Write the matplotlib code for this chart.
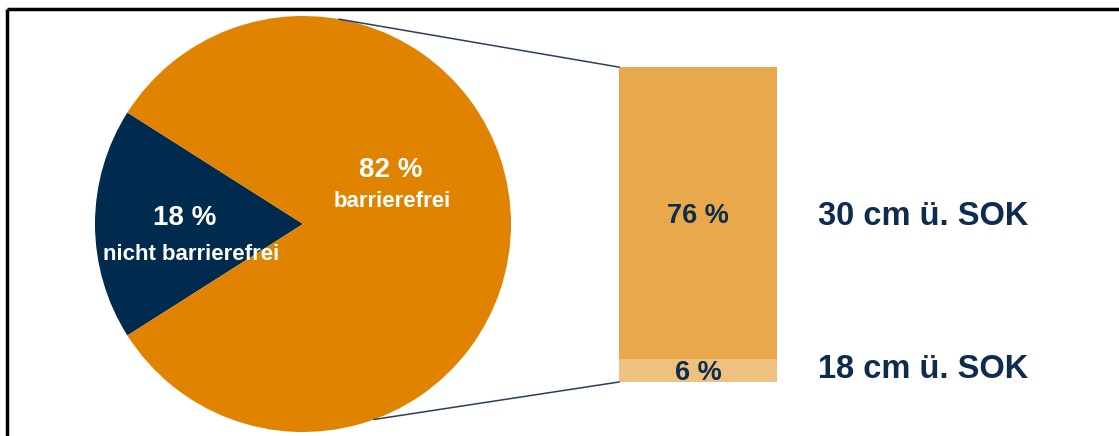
import matplotlib
matplotlib.use("Agg")
import matplotlib.pyplot as plt
import numpy as np

plt.rcParams['font.family'] = ['Liberation Sans', 'DejaVu Sans']

# ---- data ----
pie_labels = ["nicht barrierefrei", "barrierefrei"]
pie_values = [18, 82]
pie_colors = ["#002B4E", "#E08300"]

bar_labels = ["18 cm ü. SOK", "30 cm ü. SOK"]
bar_values = [6, 76]
bar_colors = ["#EFC17F", "#E8A84B"]

W, H = 1119, 436
fig = plt.figure(figsize=(W / 100, H / 100), dpi=100)
ax = fig.add_axes([0, 0, 1, 1])

navy_text = "#0E2C4E"

# pie (pixel coordinates, y up)
cx, cy, r = 303, 212, 208
half = pie_values[0] / 100 * 360 / 2
ax.pie(pie_values, colors=pie_colors, startangle=180 - half,
       counterclock=True, center=(cx, cy), radius=r,
       wedgeprops=dict(linewidth=0), frame=True)
ax.set_xlim(0, W)
ax.set_ylim(0, H)
ax.set_aspect('equal')
ax.axis('off')

# pie labels
ax.text(185, H - 218, f"{pie_values[0]} %", color="white", fontsize=20,
        fontweight="bold", ha="center", va="center")
ax.text(191, H - 255, pie_labels[0], color="white", fontsize=16,
        fontweight="bold", ha="center", va="center")
ax.text(391, H - 170, f"{pie_values[1]} %", color="white", fontsize=20,
        fontweight="bold", ha="center", va="center")
ax.text(392, H - 202, pie_labels[1], color="white", fontsize=16,
        fontweight="bold", ha="center", va="center")

# stacked bar
bx0, bx1 = 619, 777
bbottom = H - 382
scale = 3.84
bottom = bbottom
for v, c, lab in zip(bar_values, bar_colors, bar_labels):
    hgt = v * scale
    ax.bar((bx0 + bx1) / 2, hgt, width=bx1 - bx0, bottom=bottom, color=c,
           linewidth=0)
    if v < 10:
        ty_val, ty_lab = H - 373, H - 370
    else:
        ty_val, ty_lab = H - 216, H - 217
    ax.text((bx0 + bx1) / 2, ty_val, f"{v} %", color=navy_text,
            fontsize=19.5, fontweight="bold", ha="center", va="center")
    ax.text(818, ty_lab, lab, color=navy_text,
            fontsize=23.5, fontweight="bold", ha="left", va="center")
    bottom += hgt
btop = bottom

# connector lines
a1 = np.deg2rad(80)
a2 = np.deg2rad(-70)
ax.plot([cx + r * np.cos(a1), bx0], [cy + r * np.sin(a1), btop],
        color="#2B3F5C", lw=1.1)
ax.plot([cx + r * np.cos(a2), bx0], [cy + r * np.sin(a2), bbottom],
        color="#2B3F5C", lw=1.1)

# frame (top and left)
ax.plot([6.5, W], [H - 9, H - 9], color="black", lw=2.5, solid_capstyle="butt")
ax.plot([6.5, 6.5], [0, H - 9], color="black", lw=2.5, solid_capstyle="butt")

fig.savefig("out.png", dpi=100)
